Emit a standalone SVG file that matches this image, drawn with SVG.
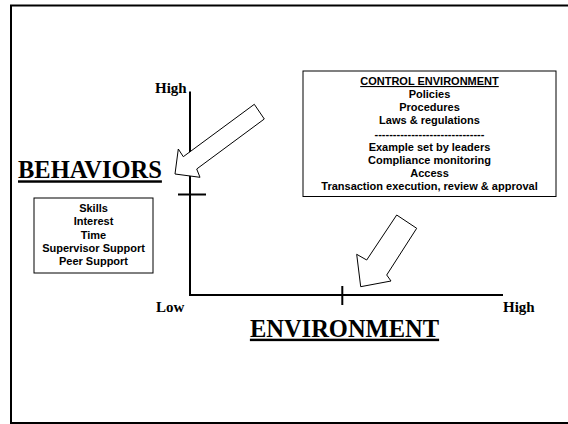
<svg xmlns="http://www.w3.org/2000/svg" width="568" height="424" viewBox="0 0 568 424">
<style>
.ser{font-family:"Liberation Serif","Times New Roman",serif;font-weight:bold;fill:#000}
.big{font-size:24.5px;text-decoration:underline}
.axl{font-size:15px}
.san{font-family:"Liberation Sans",Arial,sans-serif;font-weight:bold;font-size:11px;fill:#000;text-anchor:middle}
.box{fill:#fff;stroke:#000;stroke-width:1}
.arrow{fill:#fff;stroke:#000;stroke-width:1;stroke-linejoin:miter}
.axis{stroke:#000;stroke-width:2;fill:none}
</style>
<rect x="0" y="0" width="568" height="424" fill="#fff"/>
<rect x="11" y="5.5" width="580" height="417.5" fill="none" stroke="#000" stroke-width="2"/>

<g id="axes">
<line class="axis" x1="190" y1="91.5" x2="190" y2="296"/>
<line class="axis" x1="189" y1="295" x2="503" y2="295"/>
<line class="axis" x1="178" y1="194.5" x2="206" y2="194.5"/>
<line class="axis" x1="342.3" y1="286" x2="342.3" y2="305"/>
</g>

<g id="axis-labels">
<text class="ser axl" x="186.7" y="92.7" text-anchor="end">High</text>
<text class="ser axl" x="156" y="312">Low</text>
<text class="ser axl" x="503" y="312">High</text>
</g>

<g id="behaviors">
<text class="ser big" x="18" y="178.3">BEHAVIORS</text>
</g>

<g id="environment">
<text class="ser big" x="344.5" y="336.7" text-anchor="middle">ENVIRONMENT</text>
</g>

<g id="behavior-factors">
<rect class="box" x="34" y="198" width="119" height="75"/>
<text class="san" x="93.5" y="212">Skills</text>
<text class="san" x="93.5" y="225.3">Interest</text>
<text class="san" x="93.5" y="238.6">Time</text>
<text class="san" x="93.5" y="252">Supervisor Support</text>
<text class="san" x="93.5" y="265.3">Peer Support</text>
</g>

<g id="control-environment">
<rect class="box" x="303" y="71" width="253" height="125.5"/>
<text class="san" x="429.5" y="85" text-decoration="underline">CONTROL ENVIRONMENT</text>
<text class="san" x="429.5" y="97.5">Policies</text>
<text class="san" x="429.5" y="111">Procedures</text>
<text class="san" x="429.5" y="124">Laws &amp; regulations</text>
<text class="san" x="429.5" y="137.5">------------------------------</text>
<text class="san" x="429.5" y="150.7">Example set by leaders</text>
<text class="san" x="429.5" y="163.5">Compliance monitoring</text>
<text class="san" x="429.5" y="176.7">Access</text>
<text class="san" x="429.5" y="190">Transaction execution, review &amp; approval</text>
</g>

<g id="connectors">
<polygon class="arrow" points="254.3,104.3 264.3,119 196.7,169 200,177.3 175,174 178.3,149 183.3,156.7"/>
<polygon class="arrow" points="396.7,215 416.7,228.3 386.7,275 391,281 360.7,286.7 356.7,254.3 366.7,260"/>
</g>
</svg>
